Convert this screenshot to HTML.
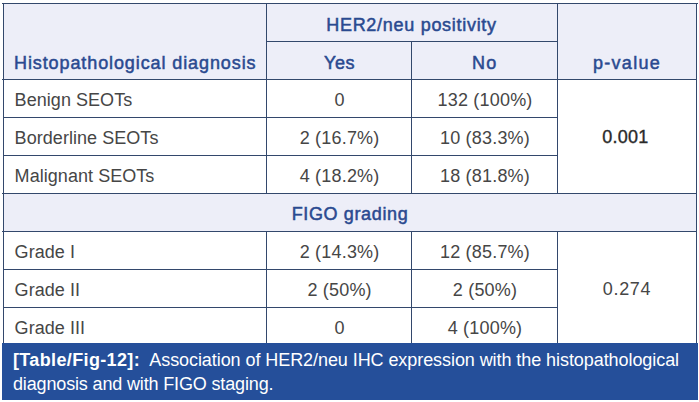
<!DOCTYPE html>
<html><head><meta charset="utf-8"><style>
html,body{margin:0;padding:0;background:#fff;width:699px;height:402px;overflow:hidden;position:relative}
body>div{position:absolute}
.t{font-family:"Liberation Sans",sans-serif;font-size:18px;line-height:20px;white-space:pre}
.c{text-align:center}
.h{color:#2a4a90;-webkit-text-stroke:0.5px #2a4a90}
.b{color:#464646;letter-spacing:0.2px}
.m{color:#2a2a2a;-webkit-text-stroke:0.35px #2a2a2a}
.cap{color:#fff}
.cap b{font-weight:bold}
</style></head><body>
<div style="left:3px;top:3px;width:694px;height:76px;background:#edeef8"></div>
<div style="left:3px;top:193px;width:694px;height:38px;background:#edeef8"></div>
<div style="left:2px;top:3px;width:696px;height:1px;background:#33486c"></div>
<div style="left:2px;top:79px;width:695px;height:1px;background:#33486c"></div>
<div style="left:2px;top:193px;width:695px;height:1px;background:#33486c"></div>
<div style="left:2px;top:231px;width:695px;height:1px;background:#33486c"></div>
<div style="left:2px;top:345px;width:695px;height:1px;background:#33486c"></div>
<div style="left:266px;top:41px;width:292px;height:1px;background:#33486c"></div>
<div style="left:3px;top:117px;width:554px;height:1px;background:#33486c"></div>
<div style="left:3px;top:155px;width:554px;height:1px;background:#33486c"></div>
<div style="left:3px;top:269px;width:554px;height:1px;background:#33486c"></div>
<div style="left:3px;top:307px;width:554px;height:1px;background:#33486c"></div>
<div style="left:3px;top:3px;width:1px;height:342px;background:#33486c"></div>
<div style="left:696px;top:3px;width:1px;height:342px;background:#33486c"></div>
<div style="left:266px;top:3px;width:1px;height:190px;background:#33486c"></div>
<div style="left:266px;top:231px;width:1px;height:114px;background:#33486c"></div>
<div style="left:411px;top:41px;width:1px;height:152px;background:#33486c"></div>
<div style="left:411px;top:231px;width:1px;height:114px;background:#33486c"></div>
<div style="left:557px;top:3px;width:1px;height:190px;background:#33486c"></div>
<div style="left:557px;top:231px;width:1px;height:114px;background:#33486c"></div>
<div class="t h" style="left:14.0px;top:52.76px;letter-spacing:0.9px">Histopathological diagnosis</div>
<div class="t c h" style="left:111.5px;top:14.76px;width:600px;letter-spacing:0.71px">HER2/neu positivity</div>
<div class="t c h" style="left:39.5px;top:52.76px;width:600px;letter-spacing:0.5px">Yes</div>
<div class="t c h" style="left:184.7px;top:52.76px;width:600px;letter-spacing:1.2px">No</div>
<div class="t c h" style="left:327px;top:52.76px;width:600px;letter-spacing:1.28px">p-value</div>
<div class="t b" style="left:14.6px;top:89.76px;letter-spacing:0.05px">Benign SEOTs</div>
<div class="t c b" style="left:39.60000000000002px;top:89.76px;width:600px;">0</div>
<div class="t c b" style="left:185px;top:89.76px;width:600px;">132 (100%)</div>
<div class="t b" style="left:14.6px;top:127.76px;letter-spacing:0.05px">Borderline SEOTs</div>
<div class="t c b" style="left:39.60000000000002px;top:127.76px;width:600px;">2 (16.7%)</div>
<div class="t c b" style="left:185px;top:127.76px;width:600px;">10 (83.3%)</div>
<div class="t b" style="left:14.6px;top:165.76px;letter-spacing:0.05px">Malignant SEOTs</div>
<div class="t c b" style="left:39.60000000000002px;top:165.76px;width:600px;">4 (18.2%)</div>
<div class="t c b" style="left:185px;top:165.76px;width:600px;">18 (81.8%)</div>
<div class="t c b m" style="left:325.4px;top:126.76px;width:600px;">0.001</div>
<div class="t c h" style="left:50px;top:203.76px;width:600px;letter-spacing:0.64px">FIGO grading</div>
<div class="t b" style="left:14.6px;top:241.76px;letter-spacing:0.05px">Grade I</div>
<div class="t c b" style="left:39.60000000000002px;top:241.76px;width:600px;">2 (14.3%)</div>
<div class="t c b" style="left:185px;top:241.76px;width:600px;">12 (85.7%)</div>
<div class="t b" style="left:14.6px;top:279.76px;letter-spacing:0.05px">Grade II</div>
<div class="t c b" style="left:39.60000000000002px;top:279.76px;width:600px;">2 (50%)</div>
<div class="t c b" style="left:185px;top:279.76px;width:600px;">2 (50%)</div>
<div class="t b" style="left:14.6px;top:317.76px;letter-spacing:0.05px">Grade III</div>
<div class="t c b" style="left:39.60000000000002px;top:317.76px;width:600px;">0</div>
<div class="t c b" style="left:185px;top:317.76px;width:600px;">4 (100%)</div>
<div class="t c b" style="left:327px;top:278.76px;width:600px;letter-spacing:0.7px">0.274</div>
<div style="left:2px;top:343px;width:696px;height:57px;background:#254f9a"></div>
<div class="t cap" style="left:13.0px;top:350.26px;"><b style="letter-spacing:0.36px">[Table/Fig-12]:</b><span style="display:inline-block;width:9.2px"></span><span style="letter-spacing:-0.07px">Association of HER2/neu IHC expression with the histopathological</span></div>
<div class="t cap" style="left:13.0px;top:373.76px;letter-spacing:-0.15px">diagnosis and with FIGO staging.</div>
</body></html>
